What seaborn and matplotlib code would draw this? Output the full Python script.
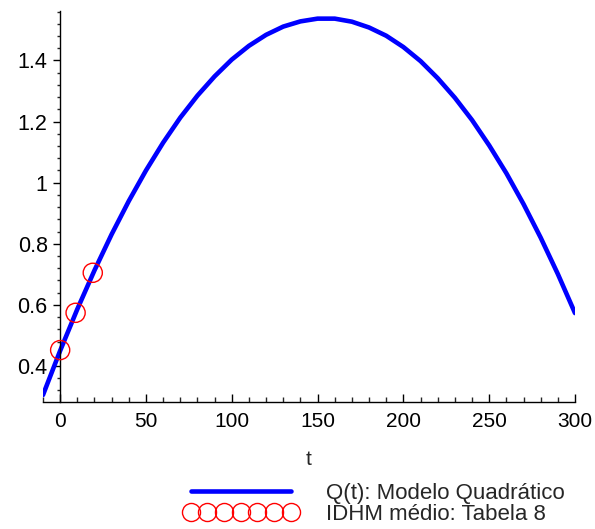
import numpy as np
import pandas as pd
import matplotlib
matplotlib.use("Agg")
import matplotlib.pyplot as plt
import seaborn as sns
from matplotlib.lines import Line2D
from matplotlib.ticker import MultipleLocator

# Curva Q(t) (modelo quadrático)
t_curva = [-10, 0, 10, 20, 30, 40, 50, 60, 70, 80, 90, 100, 110, 120, 130, 140, 150,
           160, 170, 180, 190, 200, 210, 220, 230, 240, 250, 260, 270, 280, 290, 300]
q_curva = [0.305, 0.450, 0.586, 0.713, 0.831, 0.940, 1.040, 1.131, 1.213, 1.285, 1.348,
           1.403, 1.448, 1.484, 1.511, 1.528, 1.537, 1.537, 1.527, 1.508, 1.481, 1.444,
           1.398, 1.342, 1.278, 1.205, 1.122, 1.031, 0.930, 0.820, 0.701, 0.573]

# IDHM médio (Tabela 8)
t_idhm = [0, 9, 19]
idhm = [0.452, 0.574, 0.705]

rotulo_curva = "Q(t): Modelo Quadrático"
rotulo_idhm = "IDHM médio: Tabela 8"

sns.set_style("ticks")
plt.rcParams['font.family'] = ['Liberation Sans', 'DejaVu Sans']

df_curva = pd.DataFrame({"t": t_curva, "Q": q_curva})
df_idhm = pd.DataFrame({"t": t_idhm, "IDHM": idhm})

fig = plt.figure(figsize=(5.95, 5.29), dpi=100)
ax = fig.add_axes([43 / 595, 1 - 402 / 529, 532 / 595, 391 / 529])

sns.lineplot(data=df_curva, x="t", y="Q", color="#0000ff", linewidth=3.3, ax=ax,
             legend=False, zorder=2)
sns.scatterplot(data=df_idhm, x="t", y="IDHM", marker="o", s=190, facecolors="none",
                edgecolor="#ff0000", linewidth=1.0, ax=ax, legend=False, zorder=3)

ax.set_xlim(-10, 300)
ax.set_ylim(0.282, 1.562)

ax.spines['top'].set_visible(False)
ax.spines['right'].set_visible(False)
ax.spines['left'].set_position(('data', 0))
for s in ['left', 'bottom']:
    ax.spines[s].set_linewidth(1.0)
    ax.spines[s].set_color('black')

ax.xaxis.set_major_locator(MultipleLocator(50))
ax.xaxis.set_minor_locator(MultipleLocator(10))
ax.yaxis.set_major_locator(MultipleLocator(0.2))
ax.yaxis.set_minor_locator(MultipleLocator(0.04))
ax.yaxis.set_major_formatter(plt.FuncFormatter(lambda v, p: f"{v:g}"))

ax.tick_params(axis='x', which='major', direction='in', length=6, width=1.0, pad=7,
               labelsize=15, colors='black')
ax.tick_params(axis='x', which='minor', direction='in', length=3.5, width=1.0)
ax.tick_params(axis='y', which='major', direction='out', length=5, width=1.0, pad=4,
               labelsize=15.5, colors='black')
ax.tick_params(axis='y', which='minor', direction='out', length=2.5, width=1.0)

ax.set_xlabel("t", fontsize=15, labelpad=14)
ax.set_ylabel("")

handles = [Line2D([], [], color="#0000ff", linewidth=3.3),
           Line2D([], [], color="#ff0000", marker="o", linestyle="none", markersize=13,
                  markerfacecolor="none", markeredgewidth=1.0)]
fig.legend(handles, [rotulo_curva, rotulo_idhm], loc='center left',
           bbox_to_anchor=(184 / 595, 25 / 529), frameon=False, fontsize=16,
           numpoints=7, handlelength=5.1, handletextpad=1.3, labelspacing=0.0,
           borderpad=0, borderaxespad=0)

fig.savefig("out.png", dpi=100)
